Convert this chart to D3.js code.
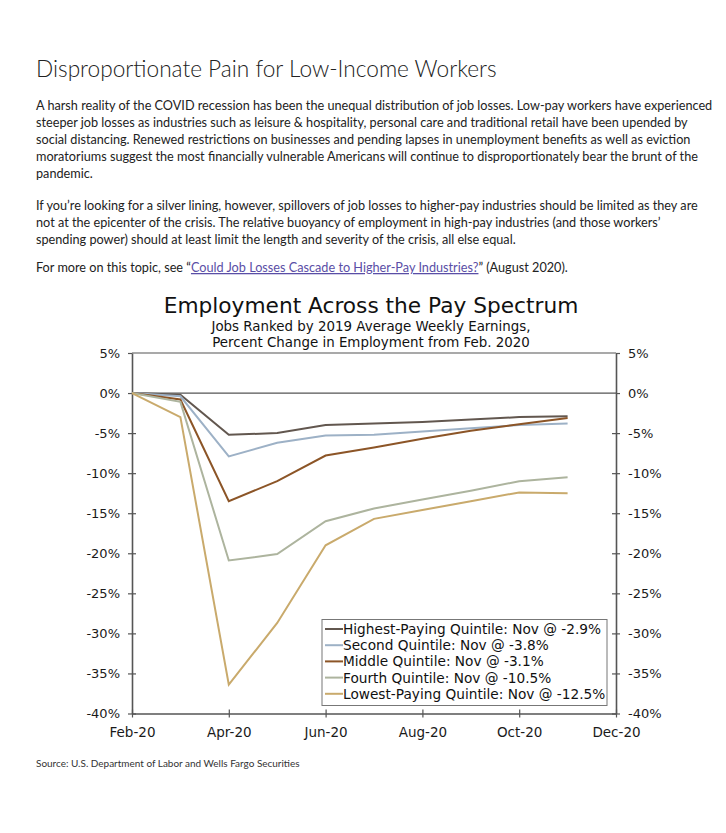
<!DOCTYPE html>
<html><head><meta charset="utf-8">
<script src="https://cdn.jsdelivr.net/npm/d3@7"></script>
<style>body{margin:0;background:#fff}svg{display:block}</style>
</head><body>
<svg id="c" width="726" height="833"></svg>
<script>
// ---- data ----
const months = ["Feb-20","Mar-20","Apr-20","May-20","Jun-20","Jul-20","Aug-20","Sep-20","Oct-20","Nov-20"];
const tickLabels = ["Feb-20","Apr-20","Jun-20","Aug-20","Oct-20","Dec-20"];
const yTicks = [5,0,-5,-10,-15,-20,-25,-30,-35,-40];
const highest = [0,-0.2,-5.2,-5.0,-4.0,-3.8,-3.6,-3.3,-3.0,-2.9];
const second  = [0,-0.4,-7.9,-6.2,-5.3,-5.2,-4.8,-4.4,-4.0,-3.8];
const middle  = [0,-0.8,-13.5,-11.0,-7.8,-6.8,-5.7,-4.7,-3.9,-3.1];
const fourth  = [0,-1.1,-20.9,-20.1,-16.0,-14.4,-13.3,-12.2,-11.0,-10.5];
const lowest  = [0,-3.0,-36.4,-28.7,-19.0,-15.7,-14.6,-13.5,-12.4,-12.5];
const seriesNames = ["Highest-Paying Quintile: Nov @ -2.9%","Second Quintile: Nov @ -3.8%","Middle Quintile: Nov @ -3.1%","Fourth Quintile: Nov @ -10.5%","Lowest-Paying Quintile: Nov @ -12.5%"];
const seriesColors = ["#62574f","#9db1c6","#8c5527","#adb49e","#c9aa6c"];
const seriesData = [highest, second, middle, fourth, lowest];

const headline = "Disproportionate Pain for Low-Income Workers";
const para1 = [
"A harsh reality of the COVID recession has been the unequal distribution of job losses. Low-pay workers have experienced",
"steeper job losses as industries such as leisure & hospitality, personal care and traditional retail have been upended by",
"social distancing. Renewed restrictions on businesses and pending lapses in unemployment benefits as well as eviction",
"moratoriums suggest the most financially vulnerable Americans will continue to disproportionately bear the brunt of the",
"pandemic."];
const para2 = [
"If you\u2019re looking for a silver lining, however, spillovers of job losses to higher-pay industries should be limited as they are",
"not at the epicenter of the crisis. The relative buoyancy of employment in high-pay industries (and those workers\u2019",
"spending power) should at least limit the length and severity of the crisis, all else equal."];
const para3pre = "For more on this topic, see \u201C";
const para3link = "Could Job Losses Cascade to Higher-Pay Industries?";
const para3post = "\u201D (August 2020).";
const chartTitle = "Employment Across the Pay Spectrum";
const subtitle = ["Jobs Ranked by 2019 Average Weekly Earnings,","Percent Change in Employment from Feb. 2020"];
const source = "Source: U.S. Department of Labor and Wells Fargo Securities";

const svg = d3.select("#c");
const bodyFont = "Lato, 'Open Sans', sans-serif";
const chartFont = "'DejaVu Sans', Verdana, sans-serif";

// headline
const h = svg.append("text").attr("x",36).attr("y",77).attr("font-family",bodyFont)
  .attr("font-weight",300).attr("font-size",21).attr("fill","#222").text(headline);
const hw = h.node().getComputedTextLength();
h.attr("font-size", 21*461/hw);

// paragraphs
const probe = svg.append("text").attr("font-family",bodyFont).attr("font-size",13).text(para1[0]);
const pw = probe.node().getComputedTextLength(); probe.remove();
const pfs = 13*677/pw;
const lh = 16.9;
function para(lines, y0){
  lines.forEach((t,i)=>svg.append("text").attr("x",36).attr("y",y0+i*lh)
    .attr("font-family",bodyFont).attr("font-size",pfs).attr("fill","#222").text(t));
}
para(para1,110);
para(para2,210);
const p3 = svg.append("text").attr("x",36).attr("y",272).attr("font-family",bodyFont)
  .attr("font-size",pfs).attr("fill","#222");
p3.append("tspan").text(para3pre);
p3.append("tspan").attr("fill","#5a4ea6").attr("text-decoration","underline").text(para3link);
p3.append("tspan").text(para3post);

// chart titles
svg.append("text").attr("x",371).attr("y",313).attr("text-anchor","middle")
  .attr("font-family",chartFont).attr("font-size",21.7).attr("fill","#111").text(chartTitle);
subtitle.forEach((t,i)=>svg.append("text").attr("x",371).attr("y",331+i*16).attr("text-anchor","middle")
  .attr("font-family",chartFont).attr("font-size",13.4).attr("fill","#111").text(t));

// scales
const x = d3.scaleLinear().domain([0,10]).range([132,616]);
const y = d3.scaleLinear().domain([-40,5]).range([713.5,353]);

const axisColor = "#555";
// top and zero lines
svg.append("line").attr("x1",x(0)).attr("x2",x(10)).attr("y1",y(5)).attr("y2",y(5)).attr("stroke",axisColor).attr("stroke-width",1.2);
svg.append("line").attr("x1",x(0)).attr("x2",x(10)).attr("y1",y(0)).attr("y2",y(0)).attr("stroke",axisColor).attr("stroke-width",1.2);

function styleAxis(g){
  g.selectAll(".domain").attr("stroke",axisColor).attr("stroke-width",1.6);
  g.selectAll(".tick line").attr("stroke",axisColor).attr("stroke-width",1.2);
  g.selectAll("text").attr("font-family",chartFont).attr("font-size",13).attr("fill","#1a1a1a");
}
const pct = d=>d+"%";
const gl = svg.append("g").attr("transform",`translate(${x(0)},0)`)
  .call(d3.axisLeft(y).tickValues(yTicks).tickFormat(pct).tickSizeInner(4).tickSizeOuter(0).tickPadding(8));
styleAxis(gl); gl.selectAll(".tick line").attr("x1",4).attr("x2",-4);
gl.selectAll(".tick").filter(d=>d===5||d===0).select("line").attr("x1",0);

const gr = svg.append("g").attr("transform",`translate(${x(10)},0)`)
  .call(d3.axisRight(y).tickValues(yTicks).tickFormat(pct).tickSizeInner(4).tickSizeOuter(0).tickPadding(8));
styleAxis(gr); gr.selectAll(".tick line").attr("x1",-4).attr("x2",4);
gr.selectAll(".tick").filter(d=>d===5||d===0).select("line").attr("x1",0);

const gb = svg.append("g").attr("transform",`translate(0,${y(-40)})`)
  .call(d3.axisBottom(x).tickValues([0,2,4,6,8,10]).tickFormat((d,i)=>tickLabels[i]).tickSizeInner(4).tickSizeOuter(0).tickPadding(10));
styleAxis(gb); gb.selectAll(".tick line").attr("y1",-4).attr("y2",4);
gb.selectAll("text").attr("font-size",13.5);

// lines
const line = d3.line().x((d,i)=>x(i)).y(d=>y(d));
seriesData.forEach((s,k)=>{
  svg.append("path").datum(s).attr("d",line).attr("fill","none")
    .attr("stroke",seriesColors[k]).attr("stroke-width",2).attr("stroke-linejoin","miter");
});

// legend
const lg = svg.append("g");
lg.append("rect").attr("x",322).attr("y",619.5).attr("width",285).attr("height",86)
  .attr("fill","#fff").attr("stroke","#777").attr("stroke-width",1);
seriesNames.forEach((n,i)=>{
  const cy = 629+i*16.2;
  lg.append("line").attr("x1",325).attr("x2",343).attr("y1",cy).attr("y2",cy)
    .attr("stroke",seriesColors[i]).attr("stroke-width",2);
  lg.append("text").attr("x",343).attr("y",cy+5).attr("font-family",chartFont)
    .attr("font-size",13.7).attr("fill","#111").text(n);
});

// source
const s = svg.append("text").attr("x",36).attr("y",767).attr("font-family",bodyFont)
  .attr("font-size",9).attr("fill","#333").text(source);
const sw = s.node().getComputedTextLength();
s.attr("font-size",9*264/sw);
</script>
</body></html>
